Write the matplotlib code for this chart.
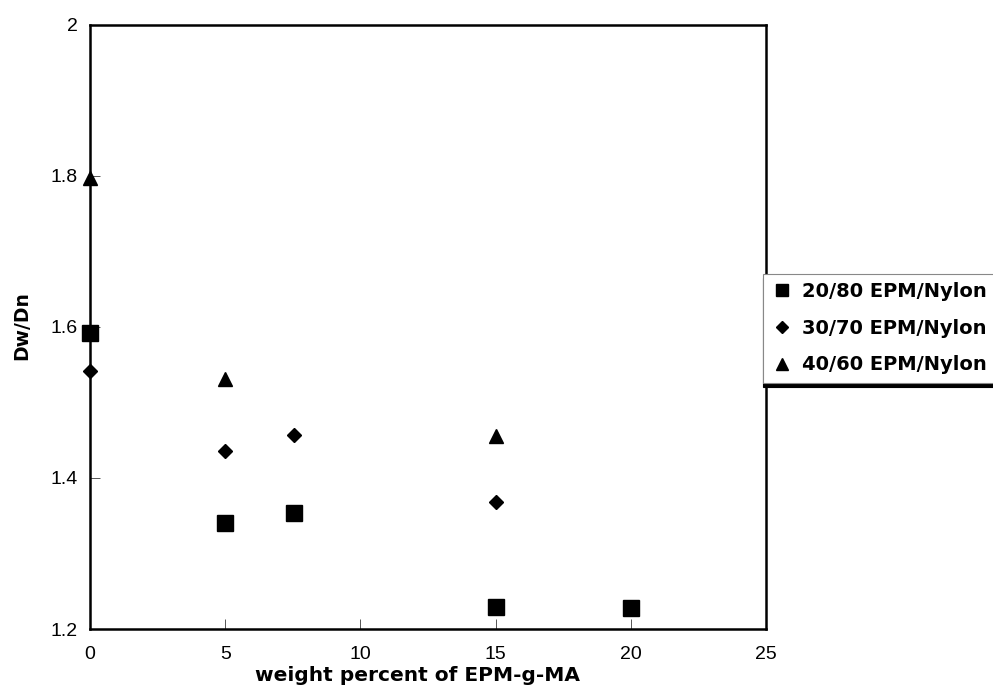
import matplotlib.pyplot as plt
from matplotlib.ticker import FuncFormatter

plt.rcParams['font.family'] = ['Liberation Sans', 'DejaVu Sans']

# Dw/Dn vs compatibilizer loading
x_2080 = [0, 5, 7.55, 15, 20]
y_2080 = [1.592, 1.340, 1.354, 1.229, 1.228]
x_3070 = [0, 5, 7.55, 15]
y_3070 = [1.542, 1.436, 1.457, 1.368]
x_4060 = [0, 5, 15]
y_4060 = [1.797, 1.531, 1.456]

labels = ['20/80 EPM/Nylon', '30/70 EPM/Nylon', '40/60 EPM/Nylon']

fig = plt.figure(figsize=(9.93, 6.89), dpi=100)
ax = fig.add_axes([0.0906, 0.087, 0.681, 0.877])

ax.plot(x_2080, y_2080, 's', color='black', markersize=11, label=labels[0], clip_on=False, zorder=3)
ax.plot(x_3070, y_3070, 'D', color='black', markersize=7.5, label=labels[1], clip_on=False, zorder=3)
ax.plot(x_4060, y_4060, '^', color='black', markersize=10, label=labels[2], clip_on=False, zorder=3)

ax.set_xlim(0, 25)
ax.set_ylim(1.2, 2.0)
ax.set_xticks([0, 5, 10, 15, 20, 25])
ax.set_yticks([1.2, 1.4, 1.6, 1.8, 2.0])
ax.yaxis.set_major_formatter(FuncFormatter(lambda v, p: '%g' % v))
ax.tick_params(direction='in', length=7, width=0.7, color='#555555', labelsize=14)
ax.tick_params(axis='x', pad=12)
ax.tick_params(axis='y', pad=9)
for s in ax.spines.values():
    s.set_linewidth(1.8)

bold = {'family': 'DejaVu Sans', 'weight': 'bold'}
ax.set_xlabel('weight percent of EPM-g-MA', fontdict=dict(bold, size=14.5))
ax.xaxis.set_label_coords(0.485, -0.061)
ax.set_ylabel('Dw/Dn', fontdict=dict(bold, size=13.5))
ax.yaxis.set_label_coords(-0.087, 0.503)

leg = fig.legend(loc='upper left', bbox_to_anchor=(0.768, 0.603), borderaxespad=0,
                 prop=dict(bold, size=14), frameon=True, fancybox=False,
                 shadow={'color': 'black', 'alpha': 1, 'ox': 0, 'oy': -3},
                 handlelength=1.2, handletextpad=0.4, labelspacing=0.92,
                 borderpad=0.42, markerscale=0.85)
leg.get_frame().set_edgecolor('#888888')
leg.get_frame().set_linewidth(0.8)

fig.savefig('out.png', dpi=100)
